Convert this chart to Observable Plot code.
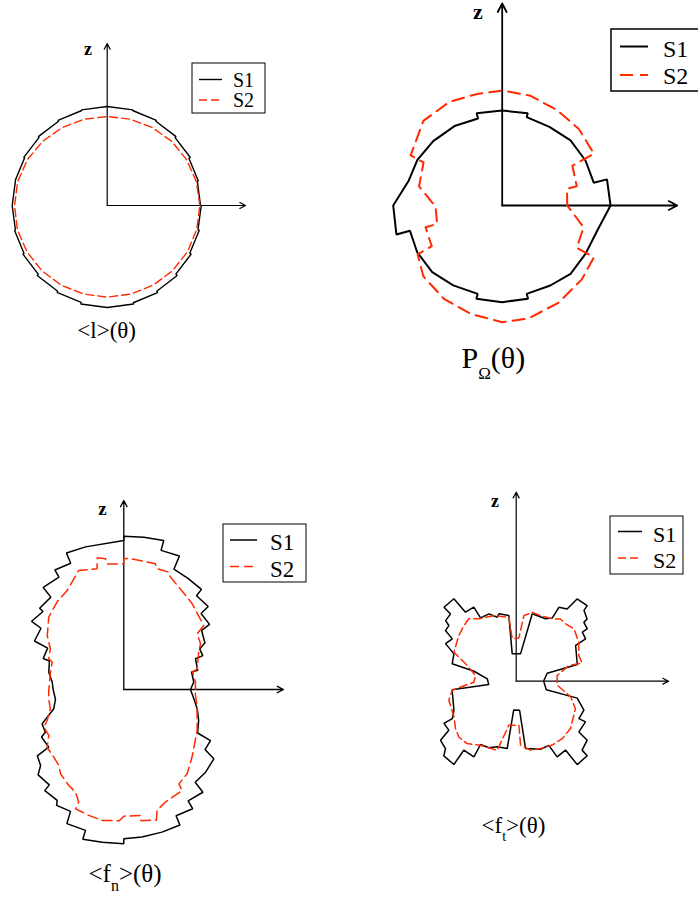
<!DOCTYPE html>
<html>
<head>
<meta charset="utf-8">
<script src="https://cdn.jsdelivr.net/npm/d3@7"></script>
<script src="https://cdn.jsdelivr.net/npm/@observablehq/plot@0.6"></script>
<style>
  html,body{margin:0;padding:0;background:#fff;}
  #page{position:relative;width:698px;height:900px;overflow:hidden;background:#fff;}
  #page svg{position:absolute;}
  #overlay text{font-family:"Liberation Serif","Times New Roman",serif;}
</style>
</head>
<body>
<div id="page"></div>
<script>
// ---------------- data (angle in degrees, radius in plot units) ----------------
const seriesNames = ["S1", "S2"];
const seriesColors = ["#000000", "#ff2a00"];

// Panel 1: <l>(θ)  — S1 as 24 angular bins of 15°, S2 as radii at 15° steps
const lBinWidth = 15;
const lS1Bins = [280,283,288,292,295,297,297,295,292,289,286,285,285,288,292,297,301,306,306,302,297,291,286,282];
const lS2 = [[0,278],[15,277],[30,275],[45,273],[60,270],[75,268],[90,267],[105,268],[120,270],[135,273],[150,276],[165,278],
             [180,278],[195,279],[210,278],[225,277],[240,276],[255,275],[270,275],[285,275],[300,276],[315,277],[330,278],[345,278]];

// Panel 2: P_Ω(θ)
const pS1 = [[0,325],[14,324],[14,283],[28.4,284],[43.6,283],[59,275],[74.5,275],[74.5,287],[90,285],[105.5,287],[105.5,271],[121,278],[137,283],[151.7,289],[165,290],
             [180,327],[195.3,329],[195.3,287],[208.8,291],[223.6,290],[238.5,281],[254.5,275],[254.5,290],[270,290],[285.5,290],[285.5,275],[301,280],[315,290],[330,289],[345.3,295]];
const pS2 = [[0,195],[14.5,201],[14.5,231],[29.5,242],[29.5,316],[45,325],[60,330],[75.5,340],[90,345],[102.6,343],[117,349],[133,347],[151.3,313],[151.3,269],[167,256],
             [181,200],[195.8,203],[195.8,239],[210,244],[210,293],[222,318],[238,330],[254,339],[270,350],[283,348],[300,337],[317,326],[330.5,316],[330.5,257],[345,253]];

// Panel 3: <f_n>(θ)
const fnS1 = [[0,200],[6,211],[14.5,210],[14.5,229],[23.2,234],[23.2,258],[28,258],[30,281],[37.2,293],[37.2,323],[44.5,325],[44.5,355],[52.2,356],[52.2,380],[60,385],[67.4,391],[67.4,434],[75,432],[75,463],[82.5,461],[90,460],
              [90,447],[105,443],[112.8,444],[112.8,411],[120,414],[120,389],[128.3,390],[128.3,353],[136,351],[136,337],[143.5,344],[143.5,309],[151.5,305],[151.5,260],[159,259],[159,239],[167,231],[174,216],
              [180,212],[188,207],[195.4,218],[202.8,266],[208.6,268],[210,285],[217.5,284],[217.5,327],[222.4,338],[224.9,363],[232,363],[232,385],[239,388],[239.9,402],[246.4,399],[247,437],[254.8,438],[254.7,466],[262,463],[270,463],
              [270,448],[277,446],[285,443],[292.5,440],[292.5,410],[300,413],[300,386],[307.6,389],[307.6,351],[314.7,349],[322.4,341],[323.5,303],[329.5,302],[329.5,257],[337.5,243],[345.2,228],[352.4,212]];
const fnS2 = [[0,215],[5.8,216],[14.1,213],[15.7,229],[26.5,251],[30.8,268],[37.2,276],[38.7,307],[51.4,329],[55.6,336],[67.4,365],[69,377],[74.6,376],[75.9,389],[87.8,394],[90,392],
              [90,377],[97.6,380],[98,396],[101.4,403],[102.5,371],[110.7,382],[119.8,342],[127.4,330],[136,313],[144.8,281],[151,252],[157.8,243],[159,230],[166.7,226],
              [180,225],[187,227],[194.8,228],[202,248],[205.2,265],[211.5,264],[217,288],[224,292],[229.5,300],[233.1,316],[240.2,332],[244.8,340],[248.2,364],[248,386],[254.5,392],[260.6,398],[268,394],[270,380],
              [277.5,381],[277.5,397],[284,404],[285.4,376],[290.3,360],[300,350],[300.3,328],[307,316],[315.3,288],[330.8,252],[347.7,225],[356,215]];

// Panel 4: <f_t>(θ)
const ftS1 = [[1.4,83],[14.5,96],[15.3,190],[31,208],[31.4,244],[36.6,247],[36.4,265],[41,269],[41.3,283],[46.2,294],[46.8,311],[53.5,307],[54.8,265],[60,256],[60.3,218],[64.8,207],[76.6,208],[81,83],
              [98.3,83],[96.4,198],[104.4,209],[106.5,200],[112,218],[119.4,218],[119.8,256],[126.3,257],[127.1,310],[134.3,310],[134.3,282],[139.4,279],[140.4,262],[144.4,261],[146.5,230],[152,240],[156.3,204],[164.8,199],[166.7,130],[175.4,87],
              [187,83],[187.7,194],[205,206],[210.3,222],[210.3,251],[216,250],[218,288],[223.6,293],[225.9,312],[233.2,312],[232.8,260],[240.8,260],[240.6,218],[247.7,216],[253.9,205],[262.4,204],[265,87],
              [276.6,87.6],[277.9,204],[289.7,217],[297,216],[298.4,258],[305.6,254],[306.2,310],[313.6,309],[313.7,286],[320.3,277],[321,242],[329.6,241],[329.2,219],[336.8,221],[344.5,190],[344,94],[358.6,83]];
const ftS2 = [[0,123],[7.9,124],[16.6,165],[15.5,205],[22.3,203],[31.9,221],[42.2,234],[49.3,227],[54.6,229],[60,216],[69.7,210],[77,212],[83.3,198],[86.5,130],
              [95.4,128],[96.5,193],[108.8,208],[120.9,218],[127.2,235],[133.2,229],[141.5,220],[155,206],[162.3,154],[172,123],
              [181.4,127],[188,194],[195.8,210],[209.8,215],[218,231],[224.2,240],[231.8,238],[240.9,220],[254.6,215],[260.5,134],
              [273.5,132],[273.9,192],[281.7,211],[289.9,215],[299.4,220],[308.7,221],[319,216],[335,196],[344,170],[354.4,124]];

// ---------------- layout ----------------
const DEG = Math.PI / 180;
const UNITS_PER_PX = 3;
const page = document.getElementById("page");

function stairs(bins, w) {
  const out = [];
  bins.forEach((r, i) => { out.push([i * w, r]); out.push([(i + 1) * w, r]); });
  return out;
}
const toXY = ([a, r]) => ({x: r * Math.cos(a * DEG), y: r * Math.sin(a * DEG)});

const panels = [
  {box:[0,0,349,450],     origin:[106.7,205],   axis:[415,486], s1:stairs(lS1Bins, lBinWidth), s2:lS2, lw:1.4, aw:1.2, dash:"8,4"},
  {box:[349,0,349,450],   origin:[501.7,205],   axis:[525,606], s1:pS1,  s2:pS2,  lw:2.0, aw:1.8, dash:"12,7"},
  {box:[0,450,349,450],   origin:[123.3,689],   axis:[479,567], s1:fnS1, s2:fnS2, lw:1.5, aw:1.3, dash:"10,5"},
  {box:[349,450,349,450], origin:[515.7,680.7], axis:[457,567], s1:ftS1, s2:ftS2, lw:1.5, aw:1.2, dash:"8,4"}
];

for (const p of panels) {
  const [left, top, w, h] = p.box;
  const [ox, oy] = p.origin;
  const k = UNITS_PER_PX;
  const axes = [{x1:0, y1:0, x2:p.axis[0], y2:0}, {x1:0, y1:0, x2:0, y2:p.axis[1]}];
  const chart = Plot.plot({
    width: w, height: h, margin: 0,
    x: {domain: [(left - ox) * k, (left + w - ox) * k], axis: null},
    y: {domain: [(oy - top - h) * k, (oy - top) * k], axis: null},
    marks: [
      Plot.arrow(axes, {x1:"x1", y1:"y1", x2:"x2", y2:"y2", stroke:"#000", strokeWidth:p.aw, headLength:8, headAngle:55}),
      Plot.line(p.s1.map(toXY), {x:"x", y:"y", curve:"linear-closed", stroke:seriesColors[0], strokeWidth:p.lw, strokeLinejoin:"miter"}),
      Plot.line(p.s2.map(toXY), {x:"x", y:"y", curve:"linear-closed", stroke:seriesColors[1], strokeWidth:p.lw, strokeDasharray:p.dash})
    ]
  });
  chart.style.position = "absolute";
  chart.style.left = left + "px";
  chart.style.top = top + "px";
  chart.style.background = "transparent";
  chart.style.overflow = "visible";
  chart.style.maxWidth = "none";
  page.appendChild(chart);
}

// ---------------- text overlay: axis names, legends, panel titles ----------------
const overlay = d3.select(page).append("svg")
  .attr("id", "overlay")
  .attr("width", 698).attr("height", 900)
  .style("left", "0px").style("top", "0px")
  .style("font-family", "'Liberation Serif','Times New Roman',serif");

const zLabels = [
  {x:88, y:55, size:18}, {x:478, y:18.5, size:22}, {x:102.5, y:515, size:19}, {x:495, y:506.5, size:18}
];
for (const z of zLabels) {
  overlay.append("text").attr("x", z.x).attr("y", z.y).attr("text-anchor", "middle")
    .attr("font-size", z.size).attr("font-weight", "bold").text("z");
}

const legends = [
  {box:[192,63,73,50],  line:[199,222], rows:[79.5,100],  textX:233, base:[86.5,107],  size:20, lw:1.4, dash:"8,4",  bw:1},
  {box:[611,29,100,62], line:[620,648], rows:[46.5,75],   textX:663, base:[57,84],     size:24, lw:2,   dash:"13,7", bw:1.5},
  {box:[223,524,83,58], line:[230,257], rows:[540,566.5], textX:270, base:[550,576.5], size:23, lw:1.5, dash:"9,5",  bw:1},
  {box:[610,516,73,58], line:[618,642], rows:[531.5,558], textX:653, base:[541.5,567.5], size:22, lw:1.5, dash:"8,4", bw:1}
];
for (const L of legends) {
  const [bx, by, bw, bh] = L.box;
  overlay.append("rect").attr("x", bx).attr("y", by).attr("width", bw).attr("height", bh)
    .attr("fill", "#fff").attr("stroke", "#000").attr("stroke-width", L.bw);
  seriesNames.forEach((name, i) => {
    overlay.append("line").attr("x1", L.line[0]).attr("x2", L.line[1]).attr("y1", L.rows[i]).attr("y2", L.rows[i])
      .attr("stroke", seriesColors[i]).attr("stroke-width", L.lw).attr("stroke-dasharray", i ? L.dash : null);
    overlay.append("text").attr("x", L.textX).attr("y", L.base[i]).attr("font-size", L.size).text(name);
  });
}

// panel titles (with subscripts)
function title(x, y, size, subSize, subDy, parts, anchor) {
  const t = overlay.append("text").attr("x", x).attr("y", y).attr("font-size", size).attr("text-anchor", anchor || "start");
  let shifted = 0;
  for (const [txt, isSub] of parts) {
    const s = t.append("tspan").text(txt);
    if (isSub) { s.attr("font-size", subSize).attr("dy", subDy); shifted = subDy; }
    else if (shifted) { s.attr("dy", -shifted); shifted = 0; }
  }
}
title(106.7, 338, 23, 0, 0, [["<l>(θ)", false]], "middle");
title(461.5, 368, 30, 17, 11, [["P", false], ["Ω", true], ["(θ)", false]]);
title(88.5, 882, 25, 16, 9, [["<f", false], ["n", true], [">(θ)", false]]);
title(481.5, 833, 23, 14, 8, [["<f", false], ["t", true], [">(θ)", false]]);
</script>
</body>
</html>
